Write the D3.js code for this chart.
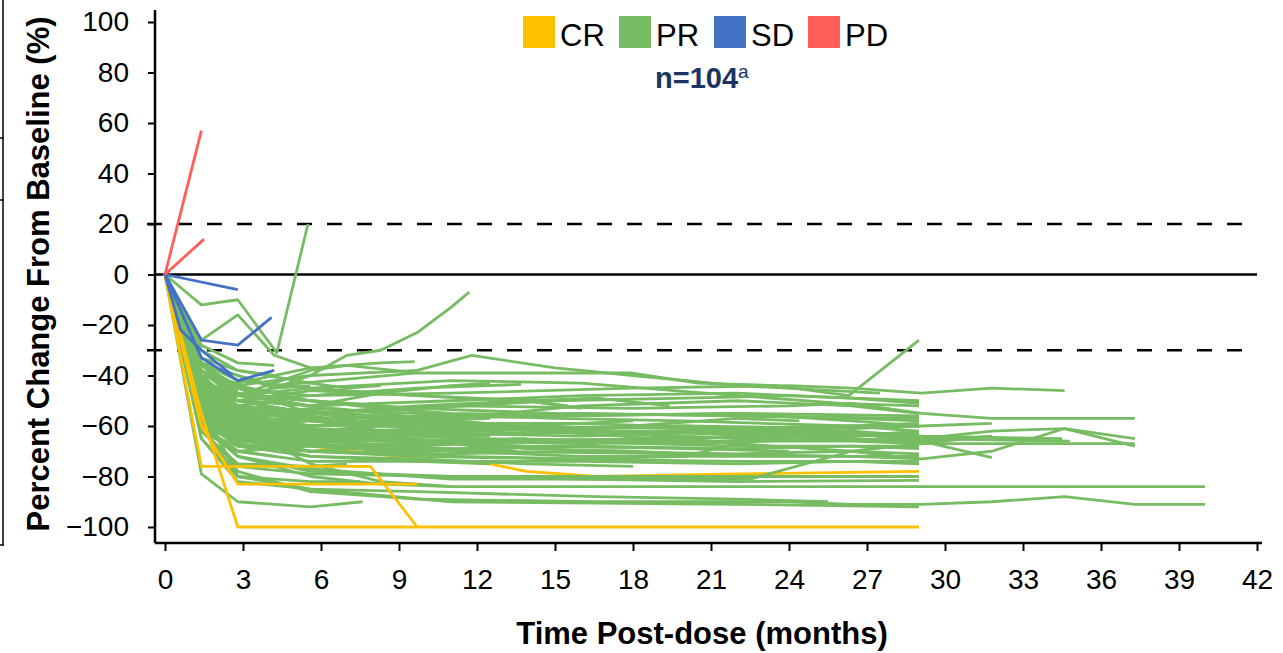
<!DOCTYPE html>
<html><head><meta charset="utf-8">
<script src="https://cdn.jsdelivr.net/npm/d3@7"></script>
<style>
html,body{margin:0;padding:0;background:#fff;}
svg{display:block;font-family:"Liberation Sans",Arial,sans-serif;}
</style></head>
<body><svg id="c" width="1283" height="653"></svg>
<script>
// ---- DATA ----
const xTicks = [0,3,6,9,12,15,18,21,24,27,30,33,36,39,42];
const yTicks = [-100,-80,-60,-40,-20,0,20,40,60,80,100];
const refLines = [20,-30];
const legendLabels = ["CR","PR","SD","PD"];
const nLabel = "n=104";
const nSup = "a";

const pdLines = [
  [[0,0],[1.4,57]],
  [[0,0],[1.5,14]]
];
const sdLines = [
  [[0,0],[2.8,-6]],
  [[0,0],[1.4,-26],[2.8,-28],[4.1,-17]],
  [[0,0],[1.4,-33],[2.8,-42],[4.2,-38]],
  [[0,0],[0.6,-22],[1.4,-30],[2.6,-40]]
];
// CR curves: the first one is partly hidden under PR lines in the reference
const crLinesUnder = [
  [[0,0],[1.4,-52],[2.8,-58],[4.2,-65],[5.6,-68],[9.7,-73],[12.5,-75],[13.9,-78],[16.6,-80],[22,-79],[29,-78]]
];
const crLines = [
  [[0,0],[1.4,-76],[7.9,-76],[9.7,-100],[29,-100]],
  [[0,0],[1.4,-60],[2.8,-83],[9.7,-83]],
  [[0,0],[1.4,-55],[2.8,-100],[9.7,-100]]
];
const prLines = [
  // long follow-up
  [[0,0],[1.4,-45],[2.8,-60],[5.6,-75],[8.3,-82],[11.1,-84],[40,-84]],
  [[0,0],[1.4,-55],[2.8,-78],[5.6,-86],[9.7,-89],[16.6,-90],[24,-90],[26.4,-91],[29.1,-91],[31.8,-90],[34.6,-88],[37.3,-91],[40,-91]],
  [[0,0],[1.4,-40],[2.8,-45],[5.6,-48],[11,-47],[18,-45],[24,-44],[26.4,-45],[29.1,-47],[31.8,-45],[34.6,-46]],
  [[0,0],[1.4,-42],[2.8,-52],[5.6,-55],[11,-52],[18,-53],[24,-52],[26.4,-51],[29.1,-55],[31.8,-57],[37.3,-57]],
  [[0,0],[1.4,-50],[2.8,-60],[5.6,-63],[12,-62],[20,-60],[26.4,-63],[29.1,-65],[31.8,-62],[34.6,-61],[37.3,-65]],
  [[0,0],[1.4,-45],[2.8,-58],[5.6,-62],[12,-65],[20,-66],[26.4,-66],[29.1,-67],[34.6,-67],[37.3,-67]],
  [[0,0],[1.4,-48],[2.8,-62],[5.6,-68],[12,-70],[20,-71],[26.4,-72],[29.1,-73],[31.8,-70],[34.6,-61],[37.3,-68]],
  [[0,0],[1.4,-52],[2.8,-64],[5.6,-66],[12,-66],[20,-65],[26.4,-63],[29.1,-66],[31.8,-72.5]],
  [[0,0],[1.4,-40],[2.8,-54],[5.6,-58],[12,-60],[20,-61],[26.4,-62],[29.1,-64],[34.5,-65]],
  [[0,0],[1.4,-50],[2.8,-59],[5.6,-61],[12,-63],[20,-62],[26.4,-63],[29.1,-65],[34.8,-66]],
  [[0,0],[1.4,-55],[2.8,-62],[5.6,-64],[12,-66],[20,-67],[26,-65],[29.1,-66],[31.8,-64]],
  [[0,0],[1.4,-46],[2.8,-57],[5.6,-62],[12,-61],[20,-60],[26.4,-61],[29.1,-60],[31.8,-59]],
  // ending near 29 months
  [[0,0],[1.4,-35],[2.8,-40],[4.2,-44],[9.7,-39],[15.5,-39],[17.9,-39],[20.5,-43],[23.5,-44],[26.3,-48],[29,-26]],
  [[0,0],[1.4,-38],[2.8,-48],[5.6,-45],[11,-42],[16,-43],[22,-48],[26,-51],[29,-52]],
  [[0,0],[1.4,-42],[2.8,-50],[5.6,-52],[11,-50],[16,-48],[22,-47],[26.4,-49],[29,-51]],
  [[0,0],[1.4,-44],[2.8,-55],[5.6,-57],[11,-56],[16,-55],[22,-56],[26.4,-57],[29,-58]],
  [[0,0],[1.4,-50],[2.8,-58],[5.6,-60],[11,-59],[16,-59],[22,-61],[26.4,-60],[29,-60]],
  [[0,0],[1.4,-48],[2.8,-60],[5.6,-64],[11,-63],[16,-64],[22,-62],[26.4,-64],[29,-63]],
  [[0,0],[1.4,-55],[2.8,-63],[5.6,-65],[11,-66],[16,-67],[22,-66],[26.4,-65],[29,-66]],
  [[0,0],[1.4,-52],[2.8,-66],[5.6,-68],[11,-69],[16,-68],[22,-69],[26.4,-68],[29,-69]],
  [[0,0],[1.4,-58],[2.8,-68],[5.6,-70],[11,-71],[16,-70],[22,-71],[26.4,-70],[29,-71]],
  [[0,0],[1.4,-45],[2.8,-62],[5.6,-67],[11,-70],[16,-72],[22,-72],[26.4,-72],[29,-72]],
  [[0,0],[1.4,-60],[2.8,-70],[5.6,-74],[11,-74],[16,-74],[22,-75],[26.4,-74],[29,-75]],
  [[0,0],[1.4,-62],[2.8,-76],[5.6,-79],[11,-80],[16,-80],[22,-80],[29,-80]],
  [[0,0],[1.4,-58],[2.8,-72],[5.6,-77],[11,-81],[16,-81],[22,-82],[29,-81.5]],
  [[0,0],[1.4,-65],[2.8,-80],[5.6,-85],[11,-90],[22,-91],[29,-92]],
  [[0,0],[1.4,-40],[2.8,-52],[5.6,-54],[11,-58],[16,-62],[22,-65],[26.4,-64],[29,-62]],
  [[0,0],[1.4,-50],[2.8,-55],[5.6,-60],[11,-57],[16,-52],[22,-50],[26.4,-52],[29,-55]],
  [[0,0],[1.4,-35],[2.8,-45],[5.6,-55],[11,-60],[16,-63],[22,-67],[26.4,-70],[29,-73]],
  [[0,0],[1.4,-55],[2.8,-65],[5.6,-70],[11,-72],[16,-73],[20,-72],[23.5,-63],[26.4,-60],[29,-59]],
  [[0,0],[1.4,-60],[2.8,-72],[5.6,-78],[11,-80],[16,-81],[22.5,-81],[26.4,-70],[29,-67],[31.8,-64]],
  [[0,0],[1.4,-42],[2.8,-48],[5.6,-50],[8.3,-53],[11,-55],[16,-56],[22,-55],[26.4,-58],[29,-60]],
  // medium follow-up
  [[0,0],[1.4,-38],[2.8,-44],[5.6,-40],[9.7,-38],[11.8,-32],[15,-37],[18,-40],[22,-44],[27.5,-47]],
  [[0,0],[1.4,-50],[2.8,-60],[5.6,-63],[9.7,-66],[13.9,-68],[17.9,-68.5]],
  [[0,0],[1.4,-65],[2.8,-82],[5.6,-85],[9.7,-86],[16.6,-88],[22,-89],[25.5,-90]],
  [[0,0],[1.4,-55],[2.8,-60],[5.6,-62],[9.7,-64],[13.9,-63],[18,-60],[22,-57],[24.4,-58]],
  [[0,0],[1.4,-45],[2.8,-50],[5.6,-55],[9.7,-58],[13.9,-60],[18,-63],[21,-66]],
  [[0,0],[1.4,-58],[2.8,-66],[5.6,-64],[9.7,-62],[13.9,-61],[18,-62],[23,-64]],
  [[0,0],[1.4,-40],[2.8,-55],[5.6,-62],[9.7,-66],[13.9,-69],[18,-70],[20,-71]],
  [[0,0],[1.4,-52],[2.8,-57],[5.6,-55],[9.7,-52],[13.9,-50],[16.6,-49],[19.4,-52]],
  [[0,0],[1.4,-47],[2.8,-65],[5.6,-72],[9.7,-73],[13.9,-75],[18,-76]],
  [[0,0],[1.4,-35],[2.8,-42],[5.6,-45],[9.7,-48],[13.9,-50],[16,-53]],
  // shorter follow-up
  [[0,0],[1.4,-35],[2.8,-40],[4.2,-45],[5.6,-40],[7,-32],[8.3,-30],[9.7,-23],[11,-13],[11.7,-7]],
  [[0,0],[1.4,-40],[2.8,-43],[5.6,-37],[8.3,-35],[9.6,-34.5]],
  [[0,0],[1.4,-45],[2.8,-50],[5.6,-48],[9.7,-45],[13.7,-43.5]],
  [[0,0],[1.4,-55],[2.8,-58],[5.6,-57],[9.7,-56],[13.9,-56.6]],
  [[0,0],[1.4,-79],[2.8,-90],[5.6,-92],[7.6,-90]],
  [[0,0],[1.4,-60],[2.8,-80],[5.6,-82],[7.5,-82]],
  [[0,0],[1.4,-55],[2.8,-68],[5.6,-72],[9.7,-74],[12.5,-75]],
  [[0,0],[1.4,-48],[2.8,-62],[5.6,-60],[8.3,-58],[11,-59]],
  [[0,0],[1.4,-38],[2.8,-47],[5.6,-50],[8.3,-52],[9.7,-54]],
  [[0,0],[1.4,-50],[2.8,-53],[5.6,-57],[8.3,-62],[11,-64],[12.5,-64]],
  [[0,0],[1.4,-42],[2.8,-58],[5.6,-67],[8.3,-70],[11.1,-69]],
  [[0,0],[1.4,-60],[2.8,-66],[5.6,-62],[8.3,-60],[9.7,-60]],
  [[0,0],[1.4,-33],[2.8,-38],[5.6,-43],[7,-45],[8.3,-44]],
  [[0,0],[1.4,-44],[2.8,-48],[5.6,-52],[8.3,-55],[11,-58],[13.9,-60]],
  [[0,0],[1.4,-58],[2.8,-72],[5.6,-80],[8.3,-83],[11,-84]],
  [[0,0],[1.4,-35],[2.8,-48],[5.6,-38],[7,-36],[9.7,-39]],
  [[0,0],[1.4,-62],[2.8,-75],[5.6,-76],[7,-75]],
  [[0,0],[1.4,-50],[2.8,-67],[5.6,-70],[8.3,-68],[11.1,-66],[13.9,-65]],
  [[0,0],[1.4,-40],[2.8,-52],[5.6,-56],[7,-58]],
  [[0,0],[1.4,-46],[2.8,-55],[5.6,-64],[8.3,-66],[11.1,-67],[13.5,-70]],
  [[0,0],[1.4,-53],[2.8,-60],[4.2,-62],[5.6,-63],[8.3,-60],[10,-57]],
  [[0,0],[1.4,-36],[2.8,-47],[5.6,-52],[8.3,-47],[11,-44],[12.5,-43]],
  // very short follow-up
  [[0,0],[1.4,-12],[2.8,-10],[4.3,-31],[5.5,20]],
  [[0,0],[1.4,-26],[2.8,-16],[4.2,-32],[5.6,-37]],
  [[0,0],[1.4,-30],[2.8,-38],[4.2,-40]],
  [[0,0],[1.4,-42],[2.8,-55]],
  [[0,0],[1.4,-50],[2.8,-62]],
  [[0,0],[1.4,-45],[2.8,-52],[4.2,-50]],
  [[0,0],[1.4,-60],[2.8,-70],[4.2,-72]],
  [[0,0],[1.4,-35],[2.8,-46]],
  [[0,0],[1.4,-55],[2.8,-48],[4.2,-45],[5.6,-44]],
  [[0,0],[1.4,-52],[2.8,-80],[4.2,-82]],
  [[0,0],[1.4,-40],[2.8,-60]],
  [[0,0],[1.4,-62],[2.8,-68]],
  [[0,0],[1.4,-28],[2.8,-35],[4.2,-36]],
  [[0,0],[1.4,-48],[2.8,-57],[5.6,-58]],
  [[0,0],[1.4,-58],[2.8,-63],[4.2,-65]],
  // additional
  [[0,0],[1.4,-50],[2.8,-56],[5.6,-53],[9.7,-55],[15,-57],[20,-58],[26.4,-60],[29,-62]],
  [[0,0],[1.4,-44],[2.8,-60],[5.6,-58],[9.7,-60],[15,-62],[22,-63],[29,-64]],
  [[0,0],[1.4,-56],[2.8,-64],[5.6,-60],[9.7,-57],[15,-56],[22,-55],[29,-56]],
  [[0,0],[1.4,-38],[2.8,-50],[5.6,-55],[9.7,-53],[15,-50],[20,-49],[24,-48],[29,-50]],
  [[0,0],[1.4,-62],[2.8,-70],[5.6,-68],[9.7,-67],[15,-66],[22,-68],[29,-68]],
  [[0,0],[1.4,-48],[2.8,-53],[5.6,-58],[9.7,-61],[13.9,-60],[18,-58]],
  [[0,0],[1.4,-54],[2.8,-61],[5.6,-66],[9.7,-64],[13.9,-66],[16.6,-67]],
  [[0,0],[1.4,-40],[2.8,-56],[5.6,-60],[9.7,-58],[12.5,-57]],
  [[0,0],[1.4,-46],[2.8,-58],[5.6,-64],[8.3,-63]],
  [[0,0],[1.4,-52],[2.8,-64],[5.6,-68],[9.7,-70],[15,-68],[20,-69],[24,-70]],
  [[0,0],[1.4,-36],[2.8,-44],[5.6,-50],[9.7,-53],[15,-55],[22,-56],[29,-57]],
  [[0,0],[1.4,-58],[2.8,-65],[5.6,-70],[9.7,-72],[15,-73],[22,-74],[29,-74]],
  [[0,0],[1.4,-43],[2.8,-50],[5.6,-46],[9.7,-48],[13.9,-50],[15.5,-52]],
  [[0,0],[1.4,-60],[2.8,-64],[5.6,-66],[9.7,-68],[13.9,-66],[19,-65]],
  [[0,0],[1.4,-47],[2.8,-54],[5.6,-57],[9.7,-59],[13.9,-61]]
];

// ---- STYLE ----
const colors = {CR:"#FFC000", PR:"#77BC63", SD:"#4472C4", PD:"#FF5F57"};
const svg = d3.select("#c");
const x = d3.scaleLinear().domain([0,42]).range([165,1257]);
const y = d3.scaleLinear().domain([-100,100]).range([527,22]);
const line = d3.line().x(d=>x(d[0])).y(d=>y(d[1]));

// left-edge frame remnant
const fr = svg.append("g").attr("stroke","#000").attr("stroke-width",1.5);
fr.append("line").attr("x1",3).attr("x2",3).attr("y1",0).attr("y2",545);
[138,200,545].forEach(v=>fr.append("line").attr("x1",0).attr("x2",4).attr("y1",v).attr("y2",v));

// reference lines
svg.append("line").attr("x1",155).attr("x2",x(42)).attr("y1",y(0)).attr("y2",y(0))
  .attr("stroke","#000").attr("stroke-width",2.5);
svg.selectAll(".ref").data(refLines).enter().append("line")
  .attr("x1",147).attr("x2",x(42)).attr("y1",d=>y(d)).attr("y2",d=>y(d))
  .attr("stroke","#000").attr("stroke-width",2.5).attr("stroke-dasharray","15,15");

// series
function draw(data, col){
  svg.append("g").selectAll("path").data(data).enter().append("path")
    .attr("d",line).attr("fill","none").attr("stroke",col)
    .attr("stroke-width",2.8).attr("stroke-linejoin","round");
}
draw(crLinesUnder, colors.CR);
draw(prLines, colors.PR);
draw(crLines, colors.CR);
draw(sdLines, colors.SD);
draw(pdLines, colors.PD);

// axes
const xa = svg.append("g").attr("transform","translate(0,543)")
  .call(d3.axisBottom(x).tickValues(xTicks).tickSize(8).tickSizeOuter(0).tickPadding(18));
xa.select(".domain").attr("d","M155,0H1262").attr("stroke-width",2.5);
xa.selectAll(".tick line").attr("stroke-width",2);
xa.selectAll(".tick text").attr("font-size",28).attr("font-family","Liberation Sans, Arial, sans-serif").attr("fill","#000");

const ya = svg.append("g").attr("transform","translate(155,0)")
  .call(d3.axisLeft(y).tickValues(yTicks).tickSize(7).tickSizeOuter(0).tickPadding(19));
ya.select(".domain").attr("d","M0,10V543").attr("stroke-width",2.5);
ya.selectAll(".tick line").attr("stroke-width",2);
ya.selectAll(".tick text").attr("font-size",28).attr("font-family","Liberation Sans, Arial, sans-serif").attr("fill","#000");

// axis titles
svg.append("text").attr("x",702).attr("y",644).attr("text-anchor","middle")
  .attr("font-size",31).attr("font-weight","bold").text("Time Post-dose (months)");
svg.append("text").attr("transform","translate(49,274) rotate(-90)").attr("text-anchor","middle")
  .attr("font-size",31).attr("font-weight","bold").text("Percent Change From Baseline (%)");

// legend
const legX = [523,619,714,808];
const lg = svg.append("g").selectAll("g").data(legendLabels).enter().append("g")
  .attr("transform",(d,i)=>`translate(${legX[i]},16)`);
lg.append("rect").attr("width",32).attr("height",32).attr("fill",d=>colors[d]);
lg.append("text").attr("x",37).attr("y",29.5).attr("font-size",31).attr("fill","#000").text(d=>d);

const nt = svg.append("text").attr("x",655).attr("y",88).attr("font-size",29).attr("font-weight","bold").attr("fill","#1B3462");
nt.append("tspan").text(nLabel);
nt.append("tspan").attr("font-size",19).attr("font-weight","normal").attr("dy",-10).text(nSup);
</script></body></html>
